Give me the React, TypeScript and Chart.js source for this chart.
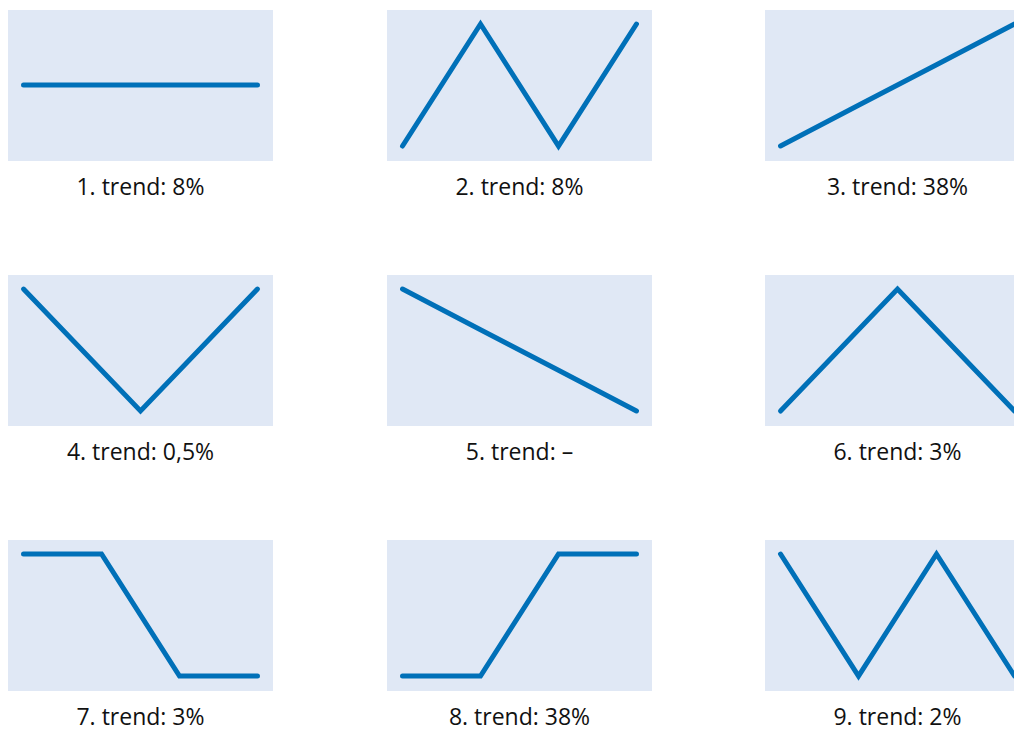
import React, { useEffect, useRef } from "react";
import { Chart, registerables } from "chart.js";

Chart.register(...registerables);

// x positions (time steps) and trend values
const xSteps = [0, 1, 2, 3];
const xHalf = [0, 1.5, 3];

const trend1 = [0.5, 0.5, 0.5, 0.5];
const trend2 = [0, 1, 0, 1];
const trend3 = [0, 1 / 3, 2 / 3, 1];
const trend4 = [1, 0, 1];
const trend5 = [1, 2 / 3, 1 / 3, 0];
const trend6 = [0, 1, 0];
const trend7 = [1, 1, 0, 0];
const trend8 = [0, 0, 1, 1];
const trend9 = [1, 0, 1, 0];

const trendLabels = [
  "1. trend: 8%",
  "2. trend: 8%",
  "3. trend: 38%",
  "4. trend: 0,5%",
  "5. trend: –",
  "6. trend: 3%",
  "7. trend: 3%",
  "8. trend: 38%",
  "9. trend: 2%",
];

const panelX = [
  xSteps, xSteps, xSteps,
  xHalf, xSteps, xHalf,
  xSteps, xSteps, xSteps,
];
const panelY = [trend1, trend2, trend3, trend4, trend5, trend6, trend7, trend8, trend9];

const PANEL_W = 265;
const PANEL_H = 151;
const COL_LEFT = [8, 387, 765];
const ROW_TOP = [10, 275, 540];
const BG = "#e0e8f5";
const LINE = "#0070b8";

const bgPlugin = {
  id: "panelBg",
  beforeDraw(chart: any) {
    const { ctx, chartArea } = chart;
    if (!chartArea) return;
    ctx.save();
    ctx.fillStyle = BG;
    ctx.fillRect(chartArea.left, chartArea.top, chartArea.right - chartArea.left, chartArea.bottom - chartArea.top);
    ctx.restore();
  },
};

function Panel({ xs, ys }: { xs: number[]; ys: number[] }) {
  const ref = useRef<HTMLCanvasElement | null>(null);
  useEffect(() => {
    if (!ref.current) return;
    const chart = new Chart(ref.current, {
      type: "line",
      data: {
        datasets: [
          {
            data: xs.map((x, i) => ({ x, y: ys[i] })),
            borderColor: LINE,
            borderWidth: 5,
            borderCapStyle: "round",
            borderJoinStyle: "miter",
            pointRadius: 0,
            tension: 0,
            fill: false,
          },
        ],
      },
      options: {
        animation: false,
        responsive: false,
        devicePixelRatio: 1,
        layout: { padding: 0 },
        plugins: { legend: { display: false }, tooltip: { enabled: false } },
        scales: {
          x: { type: "linear", min: -0.199, max: 3.199, display: false },
          y: { type: "linear", min: -0.123, max: 1.115, display: false },
        },
      },
      plugins: [bgPlugin],
    } as any);
    return () => chart.destroy();
  }, [xs, ys]);
  return <canvas ref={ref} width={PANEL_W} height={PANEL_H} style={{ display: "block" }} />;
}

export default function App() {
  return (
    <div
      style={{
        position: "fixed",
        left: 0,
        top: 0,
        width: 1014,
        height: 729,
        overflow: "hidden",
        background: "#ffffff",
      }}
    >
      {trendLabels.map((label, i) => {
        const col = i % 3;
        const row = Math.floor(i / 3);
        return (
          <div
            key={i}
            style={{ position: "absolute", left: COL_LEFT[col], top: ROW_TOP[row], width: PANEL_W }}
          >
            <Panel xs={panelX[i]} ys={panelY[i]} />
            <div
              style={{
                marginTop: 9,
                textAlign: "center",
                fontFamily: "'Open Sans', sans-serif",
                fontSize: 23,
                color: "#111111",
                whiteSpace: "nowrap",
              }}
            >
              {label}
            </div>
          </div>
        );
      })}
    </div>
  );
}
